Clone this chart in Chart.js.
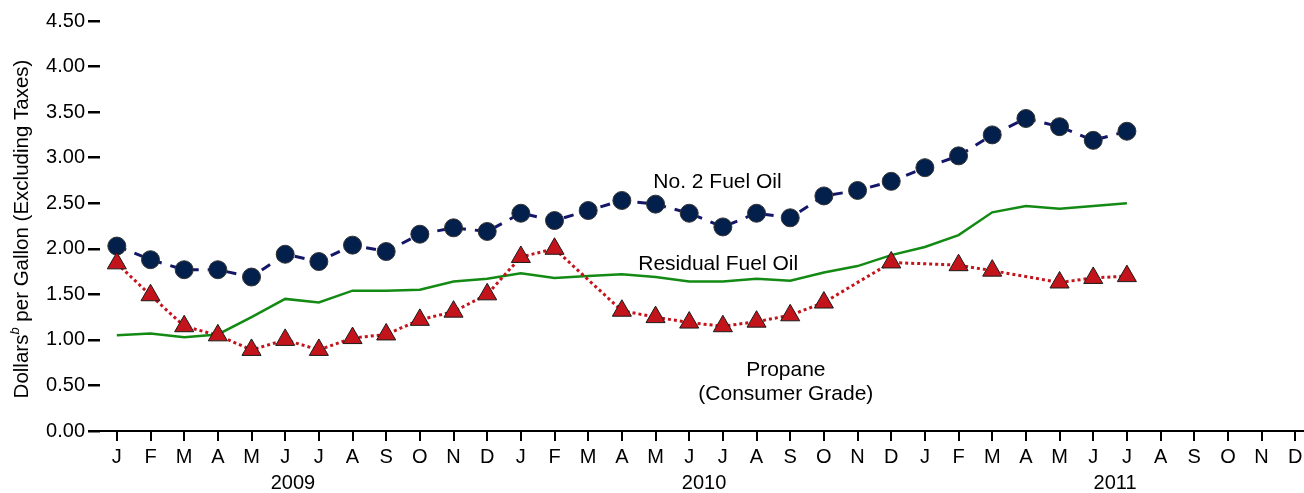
<!DOCTYPE html>
<html>
<head>
<meta charset="utf-8">
<script src="https://cdn.jsdelivr.net/npm/chart.js@4"></script>
<style>
  html, body { margin: 0; padding: 0; background: #ffffff; }
  #wrap { width: 1304px; height: 493px; position: relative; }
</style>
</head>
<body>
<div id="wrap"><canvas id="c" width="1304" height="493"></canvas></div>
<script>
// ---- Data (Jan 2009 .. Dec 2011, values through Jul 2011) ----
const monthLabels = ["J","F","M","A","M","J","J","A","S","O","N","D",
                     "J","F","M","A","M","J","J","A","S","O","N","D",
                     "J","F","M","A","M","J","J","A","S","O","N","D"];
const yearLabels = ["2009", "2010", "2011"];
const yTickValues = [0, 0.5, 1, 1.5, 2, 2.5, 3, 3.5, 4, 4.5];

const fuelOilNo2 = [2.03, 1.88, 1.77, 1.77, 1.69, 1.94, 1.86, 2.04, 1.97, 2.16, 2.23, 2.19,
                    2.39, 2.31, 2.42, 2.53, 2.49, 2.39, 2.24, 2.39, 2.34, 2.58, 2.64, 2.74,
                    2.89, 3.02, 3.25, 3.43, 3.34, 3.19, 3.29];
const residualFuelOil = [1.05, 1.07, 1.03, 1.06, 1.25, 1.45, 1.41, 1.54, 1.54, 1.55, 1.64, 1.67,
                         1.73, 1.68, 1.70, 1.72, 1.69, 1.64, 1.64, 1.67, 1.65, 1.74, 1.81, 1.93,
                         2.02, 2.15, 2.40, 2.47, 2.44, 2.47, 2.50];
const propane = [1.84, 1.49, 1.15, 1.05, 0.89, 1.00, 0.89, 1.02, 1.06, 1.22, 1.31, 1.50,
                 1.91, 2.00, null, 1.32, 1.25, 1.19, 1.15, 1.20, 1.27, 1.41, null, 1.85,
                 null, 1.82, 1.76, null, 1.63, 1.68, 1.70];

const toPoints = arr => arr.map((v, i) => ({ x: i, y: v }));

const FONT = "'Liberation Sans', Arial, sans-serif";

const extrasPlugin = {
  id: 'extras',
  afterDraw(chart) {
    const ctx = chart.ctx;
    const xs = chart.scales.x, ys = chart.scales.y;
    ctx.save();
    ctx.fillStyle = '#000';
    ctx.textAlign = 'center';
    ctx.textBaseline = 'middle';
    ctx.font = '20px ' + FONT;
    // year labels
    yearLabels.forEach((yr, k) => {
      const px = xs.getPixelForValue(5.23 + k * 12.21);
      ctx.fillText(yr, px, 483);
    });
    // series annotations
    ctx.font = '21px ' + FONT;
    ctx.fillText('No. 2 Fuel Oil', xs.getPixelForValue(17.84), ys.getPixelForValue(2.73));
    ctx.fillText('Residual Fuel Oil', xs.getPixelForValue(17.86), ys.getPixelForValue(1.83));
    ctx.fillText('Propane', xs.getPixelForValue(19.87), ys.getPixelForValue(0.67));
    ctx.fillText('(Consumer Grade)', xs.getPixelForValue(19.87), ys.getPixelForValue(0.405));
    // y-axis title with superscript
    ctx.translate(21, 229);
    ctx.rotate(-Math.PI / 2);
    const p1 = 'Dollars', sup = 'b', p2 = ' per Gallon (Excluding Taxes)';
    ctx.font = '20.5px ' + FONT;
    const w1 = ctx.measureText(p1).width, w3 = ctx.measureText(p2).width;
    ctx.font = 'italic 13px ' + FONT;
    const w2 = ctx.measureText(sup).width;
    const total = w1 + w2 + w3;
    let x0 = -total / 2;
    ctx.textAlign = 'left';
    ctx.textBaseline = 'alphabetic';
    ctx.font = '20.5px ' + FONT;
    ctx.fillText(p1, x0, 7);
    ctx.font = 'italic 13px ' + FONT;
    ctx.fillText(sup, x0 + w1, -2);
    ctx.font = '20.5px ' + FONT;
    ctx.fillText(p2, x0 + w1 + w2, 7);
    ctx.restore();
  }
};

new Chart(document.getElementById('c'), {
  type: 'line',
  data: {
    datasets: [
      {
        label: 'Propane (Consumer Grade)',
        data: toPoints(propane),
        order: 0,
        borderColor: '#c4141b',
        borderWidth: 3,
        borderDash: [3, 3],
        spanGaps: true,
        pointStyle: 'triangle',
        pointRadius: 11,
        pointBackgroundColor: '#c4141b',
        pointBorderColor: '#1a1a1a',
        pointBorderWidth: 1,
        tension: 0
      },
      {
        label: 'No. 2 Fuel Oil',
        data: toPoints(fuelOilNo2),
        order: 1,
        borderColor: '#14166a',
        borderWidth: 3,
        borderDash: [10, 9],
        pointStyle: 'circle',
        pointRadius: 9,
        pointBackgroundColor: '#03204d',
        pointBorderColor: '#333333',
        pointBorderWidth: 1,
        tension: 0
      },
      {
        label: 'Residual Fuel Oil',
        data: toPoints(residualFuelOil),
        order: 2,
        borderColor: '#138a13',
        borderWidth: 2.5,
        pointRadius: 0,
        tension: 0
      }
    ]
  },
  options: {
    responsive: false,
    animation: false,
    layout: { autoPadding: false, padding: { top: 21, right: 0, left: 0, bottom: 0 } },
    plugins: { legend: { display: false }, tooltip: { enabled: false } },
    scales: {
      x: {
        type: 'linear',
        min: -0.5,
        max: 35.26,
        afterBuildTicks: s => { s.ticks = monthLabels.map((_, i) => ({ value: i })); },
        afterFit: s => { s.height = 62; s.paddingRight = 0; s.paddingLeft = 0; },
        ticks: {
          autoSkip: false,
          maxRotation: 0,
          padding: 4,
          color: '#000',
          font: { family: FONT, size: 20 },
          callback: v => monthLabels[v]
        },
        grid: { drawOnChartArea: false, drawTicks: true, tickLength: 10, color: '#000', lineWidth: 2 },
        border: { display: true, color: '#000', width: 2 }
      },
      y: {
        min: 0,
        max: 4.5,
        afterBuildTicks: s => { s.ticks = yTickValues.map(v => ({ value: v })); },
        afterFit: s => { s.width = 100; },
        ticks: {
          padding: 3,
          color: '#000',
          font: { family: FONT, size: 20 },
          callback: v => v.toFixed(2)
        },
        grid: { drawOnChartArea: false, drawTicks: true, tickLength: 12, color: '#000', lineWidth: 2.5 },
        border: { display: false }
      }
    }
  },
  plugins: [extrasPlugin]
});
</script>
</body>
</html>
